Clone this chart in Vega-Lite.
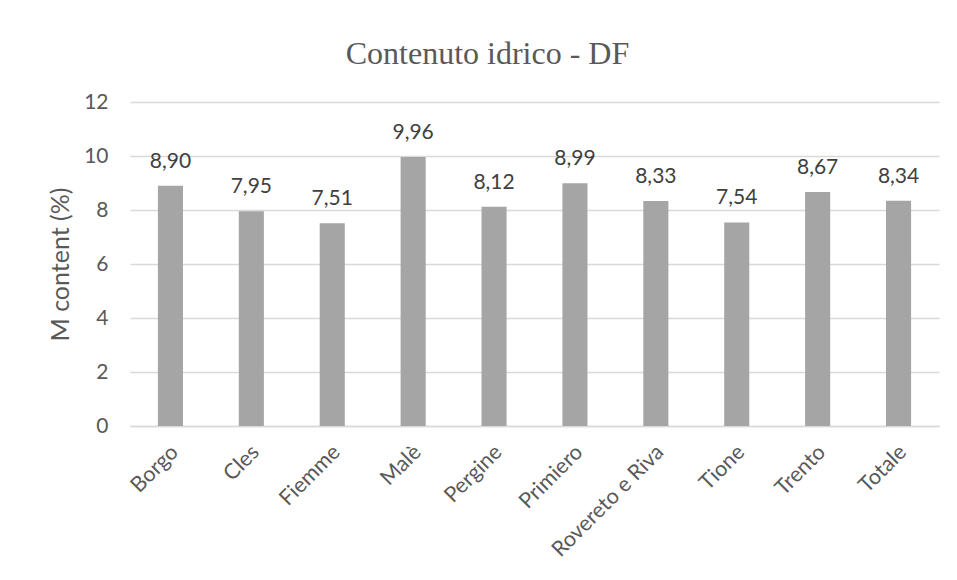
{
  "$schema": "https://vega.github.io/schema/vega-lite/v6.json",
  "autosize": "none",
  "width": 809,
  "height": 324,
  "padding": {"left": 130, "top": 102, "right": 18, "bottom": 154},
  "background": "white",
  "title": {
    "text": "Contenuto idrico - DF",
    "font": "Liberation Serif",
    "fontSize": 32,
    "fontWeight": "normal",
    "color": "#595959",
    "anchor": "middle",
    "dx": -47,
    "offset": 20
  },
  "data": {
    "values": [
      {"zona": "Borgo", "m": 8.90},
      {"zona": "Cles", "m": 7.95},
      {"zona": "Fiemme", "m": 7.51},
      {"zona": "Malè", "m": 9.96},
      {"zona": "Pergine", "m": 8.12},
      {"zona": "Primiero", "m": 8.99},
      {"zona": "Rovereto e Riva", "m": 8.33},
      {"zona": "Tione", "m": 7.54},
      {"zona": "Trento", "m": 8.67},
      {"zona": "Totale", "m": 8.34}
    ]
  },
  "encoding": {
    "x": {
      "field": "zona",
      "type": "nominal",
      "sort": null,
      "scale": {"paddingInner": 0, "paddingOuter": 0},
      "axis": {
        "title": null,
        "labelAngle": -45,
        "labelFont": "Lato",
        "labelFontSize": 21.5,
        "labelColor": "#595959",
        "labelPadding": 15,
        "labelOffset": -3,
        "ticks": false,
        "domainColor": "#d9d9d9",
        "domainWidth": 1.5,
        "grid": false
      }
    },
    "y": {
      "field": "m",
      "type": "quantitative",
      "scale": {"domain": [0, 12]},
      "axis": {
        "title": "M content (%)",
        "titleFont": "Lato",
        "titleFontSize": 25,
        "titleFontWeight": "normal",
        "titleColor": "#595959",
        "titlePadding": 10,
        "values": [0, 2, 4, 6, 8, 10, 12],
        "labelFont": "Lato",
        "labelFontSize": 21,
        "labelColor": "#595959",
        "labelPadding": 22,
        "ticks": false,
        "domain": false,
        "gridColor": "#d9d9d9",
        "gridWidth": 1.5
      }
    }
  },
  "layer": [
    {
      "mark": {"type": "bar", "color": "#a5a5a5", "width": {"band": 0.31}}
    },
    {
      "mark": {
        "type": "text",
        "baseline": "bottom",
        "dy": -14,
        "font": "Lato",
        "fontSize": 21,
        "color": "#404040"
      },
      "encoding": {
        "text": {"field": "m", "type": "quantitative", "format": ".2f"}
      }
    }
  ],
  "config": {
    "view": {"stroke": null},
    "locale": {
      "number": {
        "decimal": ",",
        "thousands": ".",
        "grouping": [3],
        "currency": ["", " €"]
      }
    }
  }
}
